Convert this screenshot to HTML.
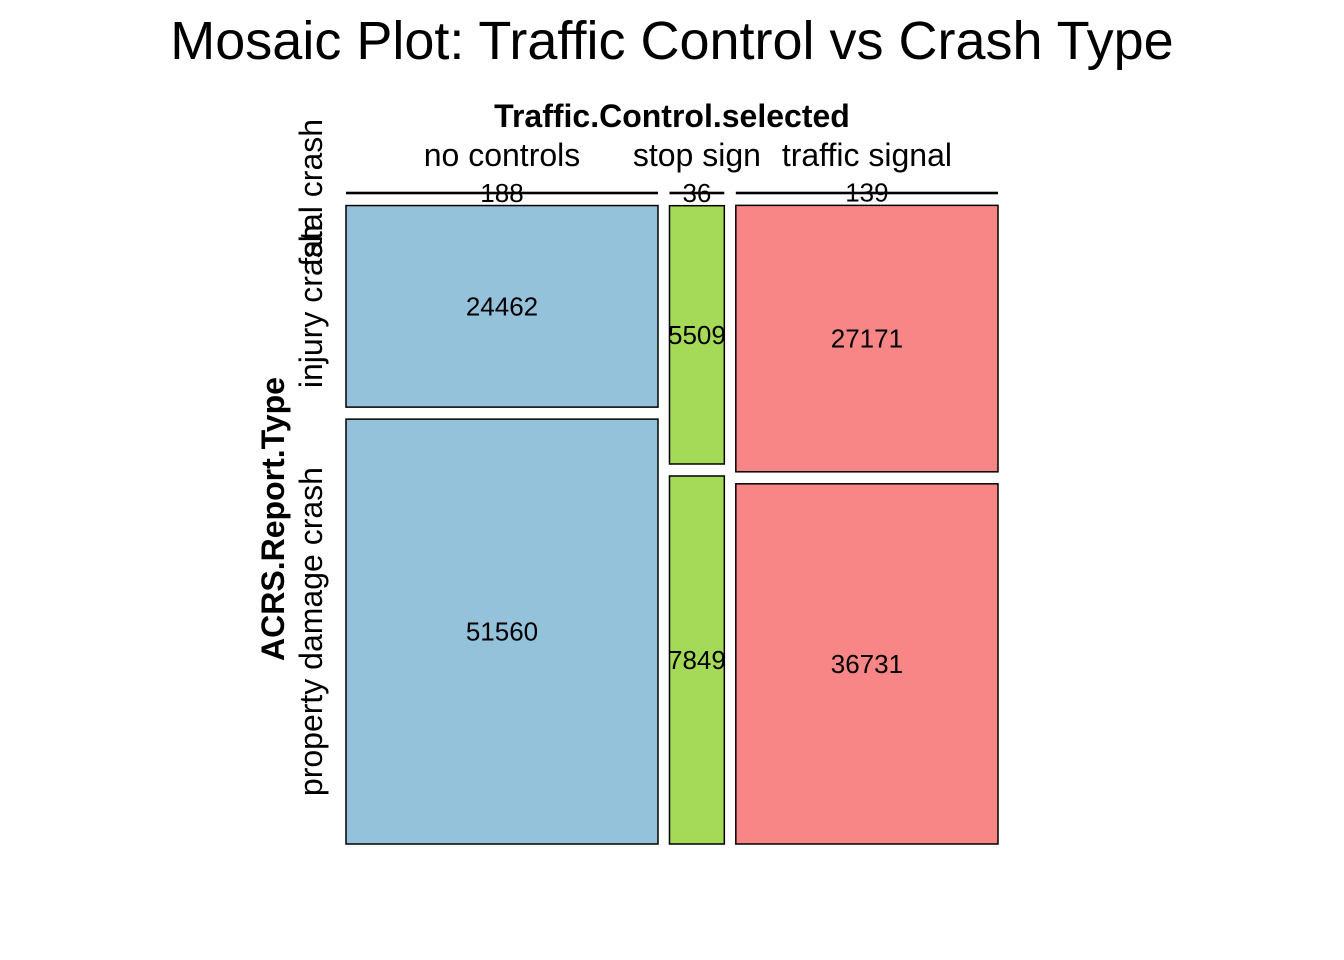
<!DOCTYPE html>
<html><head><meta charset="utf-8"><style>
html,body{margin:0;padding:0;background:#fff;}
svg{display:block;font-family:"Liberation Sans",Arial,sans-serif;}
</style></head><body>
<svg id="chart" width="1344" height="960" viewBox="0 0 1344 960">
<text x="672" y="59" font-size="54" text-anchor="middle">Mosaic Plot: Traffic Control vs Crash Type</text>
<text x="672" y="127" font-size="32" font-weight="bold" text-anchor="middle">Traffic.Control.selected</text>
<text transform="translate(284,519) rotate(-90)" font-size="32" font-weight="bold" text-anchor="middle">ACRS.Report.Type</text>
<g id="cells"></g>
</svg>
<script>
const columns = ["no controls", "stop sign", "traffic signal"];
const rows = ["fatal crash", "injury crash", "property damage crash"];
const colors = ["#94C2DB", "#A4DA57", "#F88686"];
const countsNoControls = [188, 24462, 51560];
const countsStopSign = [36, 5509, 7849];
const countsTrafficSignal = [139, 27171, 36731];
const counts = [countsNoControls, countsStopSign, countsTrafficSignal];

const NS = "http://www.w3.org/2000/svg";
const svg = document.getElementById("chart");
const g = document.getElementById("cells");
const X0 = 346, W = 652, Y0 = 192, H = 652, HG = 11.5, VG = 12;
const colTotals = counts.map(c => c.reduce((a, b) => a + b, 0));
const grand = colTotals.reduce((a, b) => a + b, 0);
const availW = W - HG * (columns.length - 1);
function mk(tag, attrs) { const e = document.createElementNS(NS, tag); for (const k in attrs) e.setAttribute(k, attrs[k]); return e; }
let x = X0;
columns.forEach((col, ci) => {
  const w = colTotals[ci] / grand * availW;
  const lab = mk("text", { x: x + w / 2, y: 166, "font-size": 32, "text-anchor": "middle" });
  
  
  lab.textContent = col; svg.appendChild(lab);
  const availH = H - VG * (rows.length - 1);
  let y = Y0;
  rows.forEach((row, ri) => {
    const h = counts[ci][ri] / colTotals[ci] * availH;
    let r;
    if (h < 3) {
      r = mk("rect", { x: x, y: y - 0.3, width: w, height: Math.max(h, 2.6), fill: "#000" });
    } else {
      r = mk("rect", { x: x, y: y, width: w, height: h, fill: colors[ci], stroke: "#000", "stroke-width": 1.5 });
    }
    
    
    g.appendChild(r);
    const t = mk("text", { x: x + w / 2, y: y + h / 2 + 9, "font-size": 26, "text-anchor": "middle" });
    
    
    t.textContent = counts[ci][ri]; g.appendChild(t);
    if (ci === 0) {
      const rl = mk("text", { transform: `translate(322,${y + h / 2}) rotate(-90)`, "font-size": 32, "text-anchor": "middle" });
      
      
      rl.textContent = row; svg.appendChild(rl);
    }
    y += h + VG;
  });
  x += w + HG;
});
</script>
</body></html>
